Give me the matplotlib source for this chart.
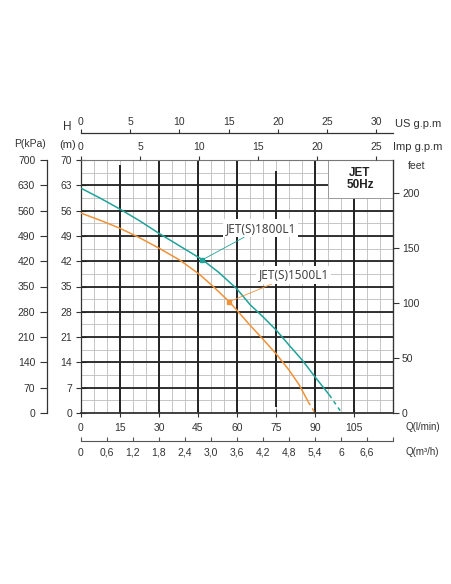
import matplotlib
matplotlib.use("Agg")
import matplotlib.pyplot as plt
from matplotlib.patches import Rectangle

# ---------------- data ----------------
# JET(S)1800L1 (teal) : flow in l/min, head in m
q_1800 = [0, 7.5, 15, 22.5, 30, 38, 46.7, 53, 60, 65, 70, 75, 80, 85, 90, 95.5]
h_1800 = [62.2, 59.4, 56.4, 53.2, 49.7, 46.2, 42.4, 38.9, 34.3, 30.0, 26.6, 23.0, 18.8, 14.7, 10.0, 5.0]
q_1800_dash = [95.5, 100.3]
h_1800_dash = [5.0, 0.0]
duty_1800 = (46.7, 42.4)

# JET(S)1500L1 (orange)
q_1500 = [0, 7.5, 15, 22.5, 30, 38, 45.5, 51, 57, 60, 65, 70, 75, 80, 84, 87.4]
h_1500 = [55.3, 53.3, 51.1, 48.5, 45.6, 42.3, 38.4, 34.9, 30.8, 28.4, 24.3, 20.4, 16.4, 11.9, 7.7, 3.1]
q_1500_dash = [87.4, 90.0]
h_1500_dash = [3.1, 0.0]
duty_1500 = (57.0, 30.8)

label_1800 = "JET(S)1800L1"
label_1500 = "JET(S)1500L1"

q_ticks = [0, 15, 30, 45, 60, 75, 90, 105]
h_ticks = [0, 7, 14, 21, 28, 35, 42, 49, 56, 63, 70]
kpa_ticks = [0, 70, 140, 210, 280, 350, 420, 490, 560, 630, 700]
feet_ticks = [0, 50, 100, 150, 200]
imp_ticks = [0, 5, 10, 15, 20, 25]
us_ticks = [0, 5, 10, 15, 20, 25, 30]
m3h_ticks = [0, 0.6, 1.2, 1.8, 2.4, 3.0, 3.6, 4.2, 4.8, 5.4, 6.0, 6.6, 7.2]
m3h_labels = ["0", "0,6", "1,2", "1,8", "2,4", "3,0", "3,6", "4,2", "4,8", "5,4", "6", "6,6", ""]

Q_MAX, H_MAX = 120, 70

# ---------------- styling ----------------
FIG_W, FIG_H, DPI = 452, 584, 100
PT = 72.0 / DPI          # points per pixel
TICK_FONT = dict(family=["Liberation Sans", "DejaVu Sans"], size=7.5, color="#333333")
plt.rcParams["font.family"] = ["Liberation Sans", "DejaVu Sans"]

TEAL = "#1fa39a"
ORANGE = "#ef9238"
MINOR = "#bdbdbd"
MAJOR = "#222222"

fig = plt.figure(figsize=(FIG_W / DPI, FIG_H / DPI), dpi=DPI)
L, R, T, B = 81, 393, 160, 413
rect = [L / FIG_W, 1 - B / FIG_H, (R - L) / FIG_W, (B - T) / FIG_H]
ax = fig.add_axes(rect)
ax.set_xlim(0, Q_MAX)
ax.set_ylim(0, H_MAX)

# minor grid
for q in range(5, Q_MAX, 5):
    ax.axvline(q, color=MINOR, lw=0.6, zorder=1)
h = 3.5
while h < H_MAX:
    ax.axhline(h, color=MINOR, lw=0.6, zorder=1)
    h += 3.5

# heavy grid
for q in [30, 45, 60, 90]:
    ax.vlines(q, 0, 70, color=MAJOR, lw=1.4, zorder=2)
ax.vlines(15, 0, 68.6, color=MAJOR, lw=1.4, zorder=2)
ax.vlines(75, 1.7, 67, color=MAJOR, lw=1.4, zorder=2)
ax.vlines(105, 0, 59.5, color=MAJOR, lw=1.4, zorder=2)
for hv in h_ticks[1:-1]:
    ax.axhline(hv, color=MAJOR, lw=1.3, zorder=2)

# box JET 50Hz
ax.add_patch(Rectangle((95, 59.5), 25, 10.5, facecolor="white", edgecolor="#9a9a9a",
                       lw=0.7, zorder=3))
ax.text(107.3, 64.7, "JET\n50Hz", ha="center", va="center", fontsize=8.5,
        fontweight="bold", color="#222222", linespacing=1.0, zorder=4)

# curves
ax.plot(q_1800, h_1800, color=TEAL, lw=1.1, zorder=5, solid_capstyle="butt")
ax.plot(q_1800_dash, h_1800_dash, color=TEAL, lw=1.1, ls=(0, (2.5, 2.5)), zorder=5)
ax.plot(q_1500, h_1500, color=ORANGE, lw=1.1, zorder=5, solid_capstyle="butt")
ax.plot(q_1500_dash, h_1500_dash, color=ORANGE, lw=1.1, ls=(0, (2.5, 2.5)), zorder=5)
ax.plot(*duty_1800, marker="s", ms=3.5, color=TEAL, zorder=6)
ax.plot(*duty_1500, marker="s", ms=3.5, color=ORANGE, zorder=6)

lab_font = dict(family=["Noto Sans", "DejaVu Sans"], fontsize=8.5, color="#444444")
ax.annotate(label_1800, xy=duty_1800, xytext=(55.6, 51.1), va="center", ha="left",
            zorder=7, **lab_font,
            bbox=dict(boxstyle="square,pad=0.2", fc="white", ec="none"),
            arrowprops=dict(arrowstyle="-", color=TEAL, lw=0.6, shrinkA=0, shrinkB=0))
ax.annotate(label_1500, xy=duty_1500, xytext=(68.3, 38.2), va="center", ha="left",
            zorder=7, **lab_font,
            bbox=dict(boxstyle="square,pad=0.2", fc="white", ec="none"),
            arrowprops=dict(arrowstyle="-", color=ORANGE, lw=0.6, shrinkA=0, shrinkB=0))

# main axis ticks: Q (l/min) bottom, H (m) left
ax.set_xticks(q_ticks)
ax.set_xticklabels([str(v) for v in q_ticks], **TICK_FONT)
ax.set_yticks(h_ticks)
ax.set_yticklabels([str(v) for v in h_ticks], **TICK_FONT)
ax.tick_params(axis="x", direction="inout", length=6, width=0.8, pad=4, color="#333333",
               top=False)
ax.tick_params(axis="y", direction="inout", length=7, width=0.8, pad=3, color="#333333",
               right=False)
for s in ["left", "right"]:
    ax.spines[s].set_color("#333333")
    ax.spines[s].set_linewidth(0.9)
ax.spines["bottom"].set_color("#333333")
ax.spines["bottom"].set_linewidth(1.3)
ax.spines["top"].set_color("#777777")
ax.spines["top"].set_linewidth(0.8)
for s in ax.spines.values():
    s.set_zorder(4)

# P(kPa) axis (left, outward)
ax_p = ax.twinx()
ax_p.set_ylim(0, 700)
ax_p.yaxis.set_ticks_position("left")
ax_p.spines["left"].set_position(("outward", 34 * PT))
for s in ["right", "top", "bottom"]:
    ax_p.spines[s].set_visible(False)
ax_p.spines["left"].set_color("#333333")
ax_p.spines["left"].set_linewidth(0.9)
ax_p.set_yticks(kpa_ticks)
ax_p.set_yticklabels([str(v) for v in kpa_ticks], **TICK_FONT)
ax_p.tick_params(axis="y", direction="out", length=5, width=0.8, pad=3.5,
                 color="#333333")

# feet axis (right)
ax_f = ax.twinx()
ax_f.set_ylim(0, H_MAX / 0.3048)
for s in ["left", "top", "bottom"]:
    ax_f.spines[s].set_visible(False)
ax_f.spines["right"].set_color("#333333")
ax_f.set_yticks(feet_ticks)
ax_f.set_yticklabels([str(v) for v in feet_ticks], **TICK_FONT)
ax_f.tick_params(axis="y", direction="out", length=4, width=0.8, pad=2.5, color="#333333")

# Imp g.p.m axis (top spine)
ax_imp = ax.twiny()
ax_imp.set_xlim(0, Q_MAX / 4.54609)
for s in ["left", "right", "bottom", "top"]:
    ax_imp.spines[s].set_visible(False)
ax_imp.xaxis.set_ticks_position("top")
ax_imp.set_xticks(imp_ticks)
ax_imp.set_xticklabels([str(v) for v in imp_ticks], **TICK_FONT)
ax_imp.tick_params(axis="x", direction="out", length=3, width=0.8, pad=3, color="#333333")

# US g.p.m axis (top, outward)
ax_us = ax.twiny()
ax_us.set_xlim(0, Q_MAX / 3.78541)
for s in ["left", "right", "bottom"]:
    ax_us.spines[s].set_visible(False)
ax_us.spines["top"].set_position(("outward", 27 * PT))
ax_us.spines["top"].set_color("#333333")
ax_us.spines["top"].set_linewidth(0.9)
ax_us.xaxis.set_ticks_position("top")
ax_us.set_xticks(us_ticks)
ax_us.set_xticklabels([str(v) for v in us_ticks], **TICK_FONT)
ax_us.tick_params(axis="x", direction="out", length=3, width=0.8, pad=1.5, color="#333333")

# m3/h axis (bottom, outward)
ax_m = ax.twiny()
ax_m.set_xlim(0, Q_MAX * 0.06)
for s in ["left", "right", "top"]:
    ax_m.spines[s].set_visible(False)
ax_m.xaxis.set_ticks_position("bottom")
ax_m.spines["bottom"].set_position(("outward", 28 * PT))
ax_m.spines["bottom"].set_color("#555555")
ax_m.spines["bottom"].set_linewidth(0.8)
ax_m.set_xticks(m3h_ticks)
ax_m.set_xticklabels(m3h_labels, **TICK_FONT)
ax_m.tick_params(axis="x", direction="in", length=3, width=0.8, pad=5, color="#555555")

# axis names
def ftext(x, y, s, **kw):
    fig.text(x / FIG_W, 1 - y / FIG_H, s, **kw)

name_font = dict(color="#333333")
ftext(395, 124, "US g.p.m", ha="left", va="center", fontsize=8, **name_font)
ftext(393, 147, "Imp g.p.m", ha="left", va="center", fontsize=8, **name_font)
ftext(417, 166, "feet", ha="center", va="center", fontsize=7.5, **name_font)
ftext(67, 127, "H", ha="center", va="center", fontsize=8.5, **name_font)
ftext(68, 145, "(m)", ha="center", va="center", fontsize=8, **name_font)
ftext(30, 144, "P(kPa)", ha="center", va="center", fontsize=7.5, **name_font)
ftext(406, 427, "Q(l/min)", ha="left", va="center", fontsize=7, **name_font)
ftext(406, 452, "Q(m³/h)", ha="left", va="center", fontsize=7, **name_font)

fig.savefig("out.png", dpi=DPI, facecolor="white")
